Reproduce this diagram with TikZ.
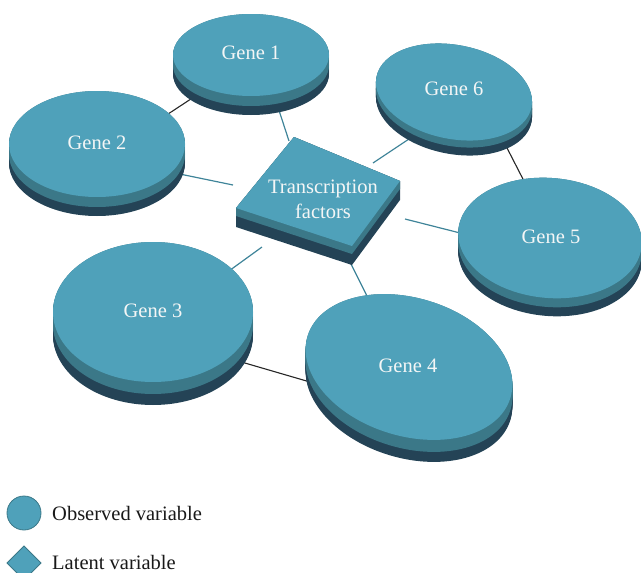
\documentclass[tikz,border=0pt]{standalone}
\usepackage{fontspec}
\setmainfont{Liberation Serif}
\usetikzlibrary{calc}
\definecolor{toplt}{HTML}{4FA1BA}
\definecolor{midc}{HTML}{3B7888}
\definecolor{darkc}{HTML}{244356}
\definecolor{linec}{HTML}{3F8499}
\definecolor{txtc}{HTML}{F4F6F6}
\newcommand{\gdisc}[7]{%
  \foreach \s in {#6,...,#7}{\fill[darkc, rotate around={#5:(#1,#2+\s)}] (#1,#2+\s) ellipse [x radius=#3, y radius=#4];}
  \foreach \s in {0,...,#6}{\fill[midc, rotate around={#5:(#1,#2+\s)}] (#1,#2+\s) ellipse [x radius=#3, y radius=#4];}
  \fill[toplt, rotate around={#5:(#1,#2)}] (#1,#2) ellipse [x radius=#3, y radius=#4];
}
\tikzset{
  glabel/.style={text=txtc, font=\fontsize{20.5}{25}\selectfont, inner sep=0pt},
  tfline/.style={draw=linec, line width=1.2pt},
  ggline/.style={draw=black!85, line width=1.1pt},
  legtext/.style={text=black!90, font=\fontsize{20.5}{25}\selectfont, anchor=west, inner sep=0pt}
}
\begin{document}
\begin{tikzpicture}[x=1pt,y=-1pt]
\useasboundingbox (0,0) rectangle (641,573);
% connector end points
\coordinate (a21) at (162,118); \coordinate (b21) at (200,93);
\coordinate (a2t) at (170,172); \coordinate (b2t) at (233,185);
\coordinate (a1t) at (274,95);  \coordinate (b1t) at (289,141);
\coordinate (a6t) at (415,135); \coordinate (b6t) at (373,163);
\coordinate (a5t) at (470,235.5); \coordinate (b5t) at (405,219);
\coordinate (a4t) at (375,312); \coordinate (b4t) at (350,262);
\coordinate (a3t) at (222,276); \coordinate (b3t) at (262,247);
\coordinate (a34) at (238,361); \coordinate (b34) at (310,382);
\coordinate (a65) at (505,144); \coordinate (b65) at (526,185);
% connectors
\draw[ggline] (a21) -- (b21);
\draw[ggline] (a34) -- (b34);
\draw[ggline] (a65) -- (b65);
\draw[tfline] (a2t) -- (b2t);
\draw[tfline] (a1t) -- (b1t);
\draw[tfline] (a6t) -- (b6t);
\draw[tfline] (a5t) -- (b5t);
\draw[tfline] (a4t) -- (b4t);
\draw[tfline] (a3t) -- (b3t);
% discs
\gdisc{251}{55}{78}{41}{0}{10}{19}
\gdisc{97}{144}{88}{53}{0}{10}{19}
\gdisc{153}{312}{100}{70}{0}{12}{23}
\gdisc{409}{367}{106}{69}{-17}{12}{22}
\gdisc{550}{238}{92}{60}{-5}{9}{18}
\gdisc{454}{92}{79}{47}{-11}{7}{15}
% slab
\coordinate (T) at (294,137);
\coordinate (R) at (400,181);
\coordinate (B) at (352,246);
\coordinate (L) at (236,208);
\fill[darkc] (L) -- (T) -- (R) -- ($(R)+(0,19)$) -- ($(B)+(0,19)$) -- ($(L)+(0,19)$) -- cycle;
\fill[midc] (L) -- (T) -- (R) -- ($(R)+(0,8)$) -- ($(B)+(0,8)$) -- ($(L)+(0,8)$) -- cycle;
\fill[toplt] (L) -- (T) -- (R) -- (B) -- cycle;
\node[glabel, align=center] (tf) at (323,199) {Transcription\\factors};
% labels
\node[glabel] (g1) at (251,53) {Gene 1};
\node[glabel] (g2) at (97,143) {Gene 2};
\node[glabel] (g3) at (153,311) {Gene 3};
\node[glabel] (g4) at (408,366) {Gene 4};
\node[glabel] (g5) at (551,237) {Gene 5};
\node[glabel] (g6) at (454,89) {Gene 6};
% legend
\fill[toplt, draw=midc, line width=0.8pt] (24,513) circle [radius=17];
\fill[toplt, draw=midc, line width=0.8pt] (24,546) -- (41,563) -- (24,580) -- (7,563) -- cycle;
\node[legtext] (obs) at (52,513) {Observed variable};
\node[legtext] (lat) at (52,562) {Latent variable};
\end{tikzpicture}
\end{document}
